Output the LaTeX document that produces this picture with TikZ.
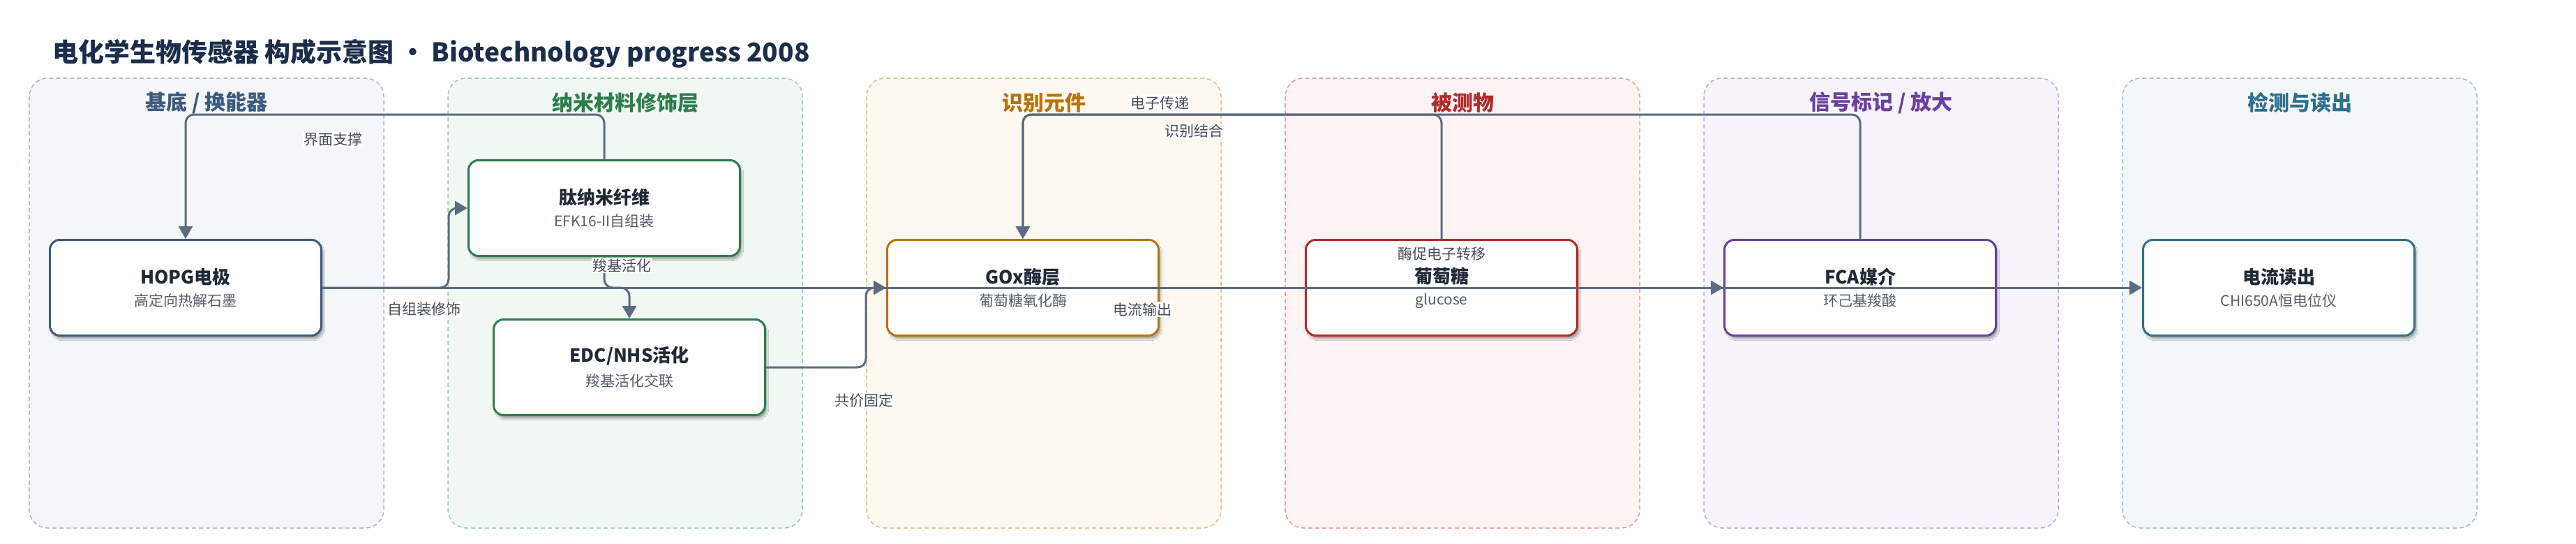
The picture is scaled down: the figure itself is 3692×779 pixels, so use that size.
\documentclass[tikz,border=0pt]{standalone}
\usepackage{fontspec}
\setmainfont{Noto Sans CJK SC}
\usetikzlibrary{arrows.meta,shadows.blur,calc}
\definecolor{titlec}{HTML}{1B2D4B}
\definecolor{l1f}{HTML}{F4F6FA}\definecolor{l1d}{HTML}{A8B6CA}\definecolor{c1}{HTML}{3D5A80}
\definecolor{l2f}{HTML}{F1F8F3}\definecolor{l2d}{HTML}{9CCAA9}\definecolor{c2}{HTML}{2E7D4F}
\definecolor{l3f}{HTML}{FEF9F0}\definecolor{l3d}{HTML}{E2BB7D}\definecolor{c3}{HTML}{B8730A}
\definecolor{l4f}{HTML}{FDF3F2}\definecolor{l4d}{HTML}{E39A97}\definecolor{c4}{HTML}{B22A2A}
\definecolor{l5f}{HTML}{F7F3FB}\definecolor{l5d}{HTML}{BFA6DC}\definecolor{c5}{HTML}{6B3FA0}
\definecolor{l6f}{HTML}{F3F7F9}\definecolor{l6d}{HTML}{9DBCCB}\definecolor{c6}{HTML}{2F6F8F}
\definecolor{edgec}{HTML}{5B6B80}
\definecolor{namec}{HTML}{1F2937}
\definecolor{subc}{HTML}{555D6B}
\definecolor{lblc}{HTML}{444C5A}
\begin{document}
\begin{tikzpicture}[x=1pt,y=-1pt,
  lanebox/.style n args={2}{fill=#1,draw=#2,dash pattern=on 6pt off 4pt,line width=1.5pt,rounded corners=26pt},
  lanetitle/.style={text=#1,font=\fontsize{30}{34}\selectfont\bfseries,inner sep=0pt},
  box/.style={rectangle,rounded corners=14pt,draw=#1,line width=3pt,fill=white,
    minimum width=389pt,minimum height=137pt,inner sep=0pt,align=center,
    blur shadow={shadow xshift=3pt,shadow yshift=-5pt,shadow blur steps=8,shadow opacity=30}},
  conn/.style={draw=edgec,line width=3pt,rounded corners=12pt,-{Triangle[length=18pt,width=20pt]}},
  lbl/.style={fill=white,text=lblc,font=\fontsize{21}{24}\selectfont,inner sep=1.5pt}
]
\useasboundingbox (0,0) rectangle (3692,779);
\fill[white] (0,0) rectangle (3692,779);
% title
\node[anchor=west,inner sep=0pt,text=titlec] (title) at (75,77)
  {\fontsize{37}{44}\selectfont\bfseries 电化学生物传感器 构成示意图 · Biotechnology progress 2008};
% lanes
\draw[lanebox={l1f}{l1d}] (42,112) rectangle (550,756);
\draw[lanebox={l2f}{l2d}] (642,112) rectangle (1150,756);
\draw[lanebox={l3f}{l3d}] (1242,112) rectangle (1750,756);
\draw[lanebox={l4f}{l4d}] (1842,112) rectangle (2350,756);
\draw[lanebox={l5f}{l5d}] (2442,112) rectangle (2950,756);
\draw[lanebox={l6f}{l6d}] (3042,112) rectangle (3550,756);
\node[lanetitle=c1] (t1) at (296,147) {基底 / 换能器};
\node[lanetitle=c2] (t2) at (896,147) {纳米材料修饰层};
\node[lanetitle=c3] (t3) at (1496,147) {识别元件};
\node[lanetitle=c4] (t4) at (2096,147) {被测物};
\node[lanetitle=c5] (t5) at (2696,147) {信号标记 / 放大};
\node[lanetitle=c6] (t6) at (3296,147) {检测与读出};
% nodes
\newcommand{\boxtext}[2]{{\fontsize{26}{30}\selectfont\bfseries\color{namec}#1}\\[11pt]{\fontsize{21}{25}\selectfont\color{subc}#2}}
\node[box=c1] (hopg) at (266,412) {\boxtext{HOPG电极}{高定向热解石墨}};
\node[box=c2] (pep) at (866,298) {\boxtext{肽纳米纤维}{EFK16-II自组装}};
\node[box=c2] (edc) at (902,526) {\boxtext{EDC/NHS活化}{羧基活化交联}};
\node[box=c3] (gox) at (1466,412) {\boxtext{GOx酶层}{葡萄糖氧化酶}};
\node[box=c4] (glu) at (2066,412) {\boxtext{葡萄糖}{glucose}};
\node[box=c5] (fca) at (2666,412) {\boxtext{FCA媒介}{环己基羧酸}};
\node[box=c6] (rd) at (3266,412) {\boxtext{电流读出}{CHI650A恒电位仪}};
\coordinate (topy) at (0,164);
% connectors
\draw[conn] (hopg.east) -- (rd.west);
\draw[conn] (gox.east) -- (fca.west);
\draw[conn] (hopg.east) -- ++(181,0) |- (pep.west);
\draw[conn] (pep.south) -- ++(0,44) -| (edc.north);
\draw[conn] (edc.east) -- ++(143,0) |- (gox.west);
\draw[conn] (pep.north) -- (pep.north |- topy) -| (hopg.north);
\draw[conn] (glu.north) -- (glu.north |- topy) -| (gox.north);
\draw[conn] (fca.north) -- (fca.north |- topy) -| (gox.north);
% labels
\node[lbl] (la) at (477,200) {界面支撑};
\node[lbl] (lb) at (608,443) {自组装修饰};
\node[lbl] (lc) at (891,380) {羧基活化};
\node[lbl] (ld) at (1238,574) {共价固定};
\node[lbl] (le) at (1662,147) {电子传递};
\node[lbl] (lf) at (1711,188) {识别结合};
\node[lbl] (lg) at (1637,443) {电流输出};
\node[lbl] (lh) at (2066,364) {酶促电子转移};
\end{tikzpicture}
\end{document}
